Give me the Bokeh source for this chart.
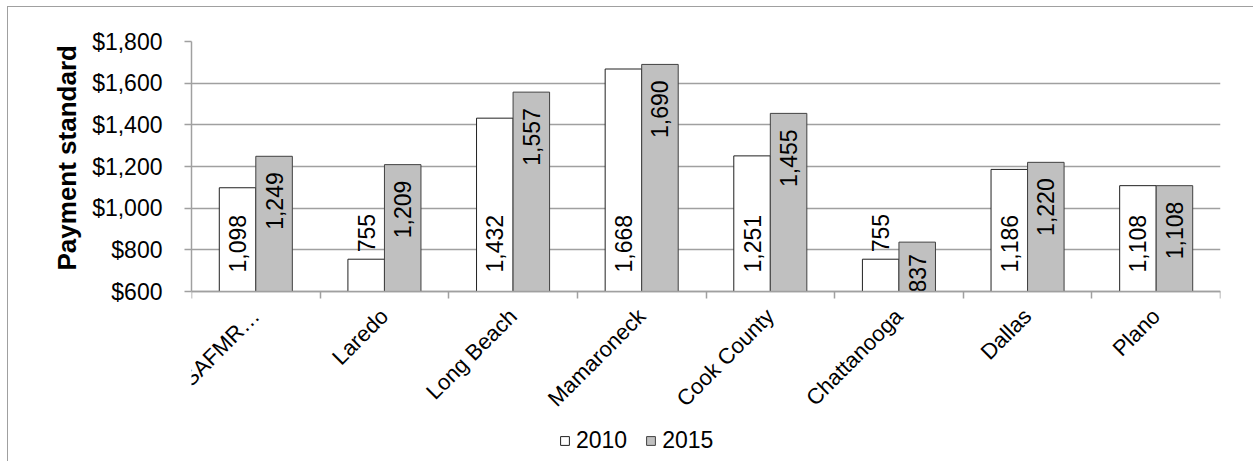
from math import pi

from bokeh.core.properties import value
from bokeh.embed import file_html
from bokeh.models import (ColumnDataSource, FixedTicker, Legend, LegendItem,
                          NumeralTickFormatter, Range1d, Title)
from bokeh.plotting import figure
from bokeh.resources import INLINE

# ---------------- data ----------------
categories = ["All SAFMR\u2026", "Laredo", "Long Beach", "Mamaroneck",
              "Cook County", "Chattanooga", "Dallas", "Plano"]
values_2010 = [1098, 755, 1432, 1668, 1251, 755, 1186, 1108]
values_2015 = [1249, 1209, 1557, 1690, 1455, 837, 1220, 1108]
series_names = ["2010", "2015"]
y_ticks = [600, 800, 1000, 1200, 1400, 1600, 1800]
y_title = "Payment standard"

# ---------------- style ----------------
Y_MIN, Y_MAX = y_ticks[0], y_ticks[-1]
FONT = "Liberation Sans"
GRID = "#A0A0A0"
BAR_W = 0.284
FS = "23px"

PLOT_PX = 250      # pixel height of the value area (Y_MIN..Y_MAX)
BELOW_PX = 170     # pixel space below the value area (category labels + legend)
units_per_px = (Y_MAX - Y_MIN) / PLOT_PX
y_start = Y_MIN - BELOW_PX * units_per_px

n = len(categories)
centers = [i + 0.5 for i in range(n)]
x10 = [c - BAR_W / 2 for c in centers]
x15 = [c + BAR_W / 2 for c in centers]

p = figure(frame_width=1029, frame_height=PLOT_PX + BELOW_PX,
           x_range=Range1d(0, n), y_range=Range1d(y_start, Y_MAX),
           output_backend="svg", toolbar_location=None,
           min_border_left=183, min_border_right=33, min_border_top=34, min_border_bottom=0)
p.styles = {"margin-left": "7px", "margin-top": "6px",
            "border-top": "1px solid #A0A0A0", "border-left": "1px solid #A0A0A0"}
p.outline_line_color = None
p.background_fill_color = "white"
p.border_fill_color = "white"

# grid
p.xgrid.visible = False
p.ygrid.ticker = FixedTicker(ticks=y_ticks)
p.ygrid.grid_line_color = GRID
p.ygrid.grid_line_width = 1.5

# y axis
ya = p.yaxis[0]
ya.bounds = (Y_MIN, Y_MAX)
ya.ticker = FixedTicker(ticks=y_ticks)
ya.formatter = NumeralTickFormatter(format="$0,0")
ya.major_tick_out = 7
ya.major_tick_in = 0
ya.minor_tick_out = 0
ya.minor_tick_in = 0
ya.major_tick_line_color = GRID
ya.major_tick_line_width = 1.5
ya.axis_line_color = GRID
ya.axis_line_width = 1.5
ya.major_label_text_font = FONT
ya.major_label_text_font_size = FS
ya.major_label_text_color = "black"
ya.major_label_standoff = 22

# y title as a side-panel title (offset from the frame bottom)
yt = Title(text=y_title, align="left", offset=BELOW_PX + 21, standoff=16,
           text_font=FONT, text_font_size="26px", text_font_style="bold",
           text_color="black")
p.add_layout(yt, "left")

# x axis, pinned at the value-axis minimum
xa = p.xaxis[0]
xa.fixed_location = Y_MIN
xa.ticker = FixedTicker(ticks=centers, minor_ticks=list(range(n + 1)))
xa.major_label_overrides = {c: lab for c, lab in zip(centers, categories)}
xa.major_tick_out = 0
xa.major_tick_in = 0
xa.minor_tick_out = 7
xa.minor_tick_in = 0
xa.minor_tick_line_color = GRID
xa.minor_tick_line_width = 1.5
xa.axis_line_color = GRID
xa.axis_line_width = 1.5
xa.major_label_orientation = pi / 4
xa.major_label_text_font = FONT
xa.major_label_text_font_size = "22px"
xa.major_label_text_color = "black"
xa.major_label_standoff = 14

# bars
src = ColumnDataSource(dict(x10=x10, x15=x15, v10=values_2010, v15=values_2015))
r10 = p.vbar(x="x10", top="v10", bottom=Y_MIN, width=BAR_W, source=src,
             fill_color="white", line_color="#202020", line_width=1)
r15 = p.vbar(x="x15", top="v15", bottom=Y_MIN, width=BAR_W, source=src,
             fill_color="#C0C0C0", line_color="#404040", line_width=1)

# data labels
SHORT = 200  # 2010 bars shorter than this (data units) get the label outside
long10 = [i for i, v in enumerate(values_2010) if v - Y_MIN >= SHORT]
short10 = [i for i, v in enumerate(values_2010) if v - Y_MIN < SHORT]
SHORT15 = 250  # 2015 bars shorter than this get a tighter inside-end padding
long15 = [i for i, v in enumerate(values_2015) if v - Y_MIN >= SHORT15]
short15 = [i for i, v in enumerate(values_2015) if v - Y_MIN < SHORT15]

lab_kw = dict(angle=pi / 2, text_font=value(FONT), text_font_size=FS,
              text_color="black", text_baseline="middle")
p.text(x=[x10[i] for i in long10], y=[Y_MIN] * len(long10),
       text=[f"{values_2010[i]:,}" for i in long10],
       text_align="left", y_offset=-19, **lab_kw)
p.text(x=[x10[i] for i in short10], y=[values_2010[i] for i in short10],
       text=[f"{values_2010[i]:,}" for i in short10],
       text_align="left", y_offset=-7, **lab_kw)
p.text(x=[x15[i] for i in long15], y=[values_2015[i] for i in long15],
       text=[f"{values_2015[i]:,}" for i in long15],
       text_align="right", y_offset=16, **lab_kw)
p.text(x=[x15[i] for i in short15], y=[values_2015[i] for i in short15],
       text=[f"{values_2015[i]:,}" for i in short15],
       text_align="right", y_offset=12, **lab_kw)

# legend, inside the (extended) frame near its bottom
legend = Legend(items=[LegendItem(label=series_names[0], renderers=[r10]),
                       LegendItem(label=series_names[1], renderers=[r15])],
                orientation="horizontal", location=(368, 7),
                glyph_width=11, glyph_height=11, label_standoff=6, spacing=18,
                padding=0, margin=0, border_line_color=None,
                background_fill_alpha=0,
                label_text_font=FONT, label_text_font_size=FS, label_text_color="black")
p.add_layout(legend)

open("out.html", "w").write(file_html(p, INLINE))
